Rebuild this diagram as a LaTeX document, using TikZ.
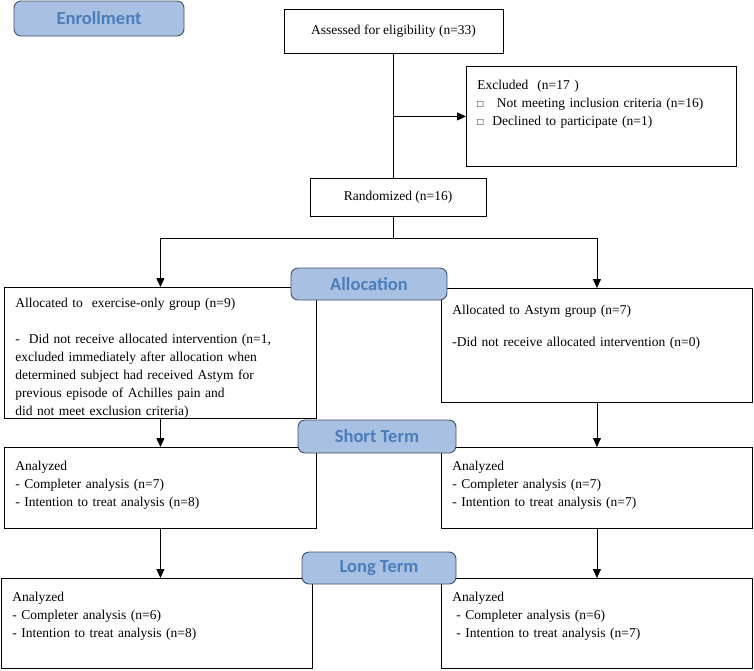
\documentclass[tikz,border=0pt]{standalone}
\usepackage{fontspec}
\setmainfont{Liberation Serif}
\newfontfamily\headfont{Carlito}
\usetikzlibrary{arrows.meta}
\newcommand\bodyfont{\fontsize{13.5}{18}\selectfont}
\newcommand\sqbox{{\fontsize{10}{10}\selectfont □}}
\definecolor{headfill}{RGB}{168,192,226}
\definecolor{headtext}{RGB}{74,126,187}
\definecolor{headline}{RGB}{64,80,105}
\tikzset{
  box/.style={draw,line width=0.9pt,font=\bodyfont},
  tbox/.style 2 args={box,anchor=north west,align=left,inner xsep=11pt,inner ysep=8pt,
    text width=#1,text height=15pt,text depth=#2},
  hdr/.style={draw=headline,line width=0.9pt,fill=headfill,rounded corners=7pt,text=headtext,
    font=\headfont\bfseries\fontsize{18.5}{20}\selectfont},
  arr/.style={-{Triangle[length=9pt,width=8pt]},line width=0.9pt}
}
\begin{document}
\begin{tikzpicture}[x=1pt,y=-1pt]
\useasboundingbox (0,0) rectangle (754,670);

% Enrollment
\node[box,minimum width=219pt,minimum height=44pt] (assess) at (393.5,31) {Assessed for eligibility (n=33)};
\node[tbox={248pt}{69pt}] (excl) at (466,66) {Excluded~~(n=17~)\\
  \sqbox~~~Not meeting inclusion criteria (n=16)\\
  \sqbox~~Declined to participate (n=1)};
\node[box,minimum width=176pt,minimum height=38pt] (rand) at (398,197) {Randomized (n=16)};

% Allocation
\node[tbox={290pt}{103pt},text height=12pt] (allocL) at (4,287) {Allocated to~~exercise-only group (n=9)\\[18pt]
  -~~Did not receive allocated intervention (n=1,\\
  excluded immediately after allocation when\\
  determined subject had received Astym for\\
  previous episode of Achilles pain and\\
  did not meet exclusion criteria)};
\node[tbox={289pt}{80pt},text height=18pt] (allocR) at (441,288) {Allocated to Astym group (n=7)\\[14pt]
  -Did not receive allocated intervention (n=0)};

% Short term
\node[tbox={290pt}{50pt}] (stL) at (4,447) {Analyzed\\
  - Completer analysis (n=7)\\
  - Intention to treat analysis (n=8)};
\node[tbox={289pt}{50pt}] (stR) at (441,447) {Analyzed\\
  - Completer analysis (n=7)\\
  - Intention to treat analysis (n=7)};

% Long term
\node[tbox={289pt}{59pt}] (ltL) at (1,578) {Analyzed\\
  - Completer analysis (n=6)\\
  - Intention to treat analysis (n=8)};
\node[tbox={289pt}{59pt}] (ltR) at (441,578) {Analyzed\\
  \hspace{4pt}- Completer analysis (n=6)\\
  \hspace{4pt}- Intention to treat analysis (n=7)};

% Fleches
\draw[line width=0.9pt] (assess.south) -- (assess.south |- rand.north);
\draw[arr] (assess.south |- excl.west) -- (excl.west);
\draw[line width=0.9pt] (assess.south |- rand.south) -- ++(0,22) coordinate (split);
\draw[arr] (split) -| (allocL.north);
\draw[arr] (split) -| (allocR.north);
\draw[arr] (allocL.south) -- (stL.north);
\draw[arr] (allocR.south) -- (stR.north);
\draw[arr] (stL.south) -- (stL.south |- ltL.north);
\draw[arr] (stR.south) -- (stR.south |- ltR.north);

% Etiquettes
\node[hdr,minimum width=170pt,minimum height=35pt] (enroll) at (99,18.5) {Enrollment};
\node[hdr,minimum width=156pt,minimum height=32pt] (alloc) at (369,284) {Allocation};
\node[hdr,minimum width=158pt,minimum height=33pt] (short) at (377,436.5) {Short Term};
\node[hdr,minimum width=154pt,minimum height=32pt] (long) at (379,568) {Long Term};

\end{tikzpicture}
\end{document}
